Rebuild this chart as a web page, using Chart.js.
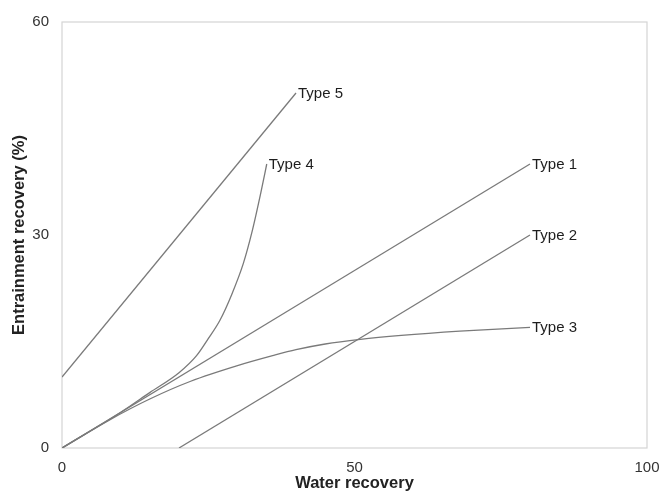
<!DOCTYPE html>
<html>
<head>
<meta charset="utf-8">
<script src="https://cdn.jsdelivr.net/npm/chart.js@4/dist/chart.umd.min.js"></script>
<style>
  html, body { margin: 0; padding: 0; background: #ffffff; }
  #wrap { width: 661px; height: 493px; position: relative; }
</style>
</head>
<body>
<div id="wrap"><canvas id="c" width="661" height="493"></canvas></div>
<script>
// Curve names, drawn at the end of each line
const seriesNames = ['Type 1', 'Type 2', 'Type 3', 'Type 4', 'Type 5'];

// Water recovery (x) and entrainment recovery (y) for each curve
const type1X = [0, 80];
const type1Y = [0, 40];

const type2X = [20, 80];
const type2Y = [0, 30];

const type3X = [0, 8, 15, 22, 30, 36, 40, 45, 51, 58, 68, 80];
const type3Y = [0, 3.9, 6.9, 9.4, 11.6, 13.0, 13.85, 14.65, 15.3, 15.85, 16.45, 17];

const type4X = [0, 10, 15, 20, 23, 25, 27, 29, 31, 32.5, 34, 35];
const type4Y = [0, 5, 7.8, 10.6, 13, 15.4, 18, 21.6, 26, 30.5, 36, 40];

const type5X = [0, 40];
const type5Y = [10, 50];

// Axis ticks
const xTicks = [0, 50, 100];
const yTicks = [0, 30, 60];

function pts(xs, ys) { return xs.map((x, i) => ({ x: x, y: ys[i] })); }

const seriesXs = [type1X, type2X, type3X, type4X, type5X];
const seriesYs = [type1Y, type2Y, type3Y, type4Y, type5Y];

const LINE = '#7a7a7a';
const FONT = '"Liberation Sans", Arial, sans-serif';

const datasets = seriesNames.map((name, i) => ({
  label: name,
  data: pts(seriesXs[i], seriesYs[i]),
  showLine: true,
  borderColor: LINE,
  borderWidth: 1.3,
  pointRadius: 0,
  pointHoverRadius: 0,
  fill: false,
  cubicInterpolationMode: 'monotone'
}));

// Light frame around the plotting area
const frame = {
  id: 'frame',
  beforeDatasetsDraw(chart) {
    const { ctx, chartArea: a } = chart;
    ctx.save();
    ctx.strokeStyle = '#d4d4d4';
    ctx.lineWidth = 1.2;
    ctx.strokeRect(a.left, a.top, a.right - a.left, a.bottom - a.top);
    ctx.restore();
  }
};

// Name of each curve written just past its last point
const endLabels = {
  id: 'endLabels',
  afterDatasetsDraw(chart) {
    const { ctx } = chart;
    ctx.save();
    ctx.font = '15px ' + FONT;
    ctx.fillStyle = '#1e1e1e';
    ctx.textAlign = 'left';
    ctx.textBaseline = 'middle';
    chart.data.datasets.forEach((ds, i) => {
      const meta = chart.getDatasetMeta(i);
      const last = meta.data[meta.data.length - 1];
      ctx.fillText(ds.label, last.x + 2, last.y + 1);
    });
    ctx.restore();
  }
};

new Chart(document.getElementById('c'), {
  type: 'scatter',
  data: { datasets: datasets },
  options: {
    responsive: false,
    animation: false,
    devicePixelRatio: 1,
    layout: { padding: { top: 22, right: 14, left: 0, bottom: 0 } },
    plugins: {
      legend: { display: false },
      tooltip: { enabled: false }
    },
    scales: {
      x: {
        type: 'linear',
        min: 0,
        max: 100,
        afterBuildTicks(scale) { scale.ticks = xTicks.map(v => ({ value: v })); },
        afterFit(scale) {
          scale.height = 45;
          // let the "100" label run past the frame instead of shrinking the plot
          scale.paddingLeft = 0;
          scale.paddingRight = 0;
        },
        grid: { display: false, drawTicks: false },
        border: { display: false },
        ticks: {
          padding: 11,
          color: '#333333',
          font: { family: FONT, size: 15 }
        },
        title: {
          display: true,
          text: 'Water recovery',
          color: '#222222',
          padding: { top: 0, bottom: 0 },
          font: { family: FONT, size: 16.5, weight: 'bold' }
        }
      },
      y: {
        type: 'linear',
        min: 0,
        max: 60,
        afterBuildTicks(scale) { scale.ticks = yTicks.map(v => ({ value: v })); },
        afterFit(scale) { scale.width = 62; },
        grid: { display: false, drawTicks: false },
        border: { display: false },
        ticks: {
          padding: 13,
          color: '#333333',
          font: { family: FONT, size: 15 }
        },
        title: {
          display: true,
          text: 'Entrainment recovery (%)',
          color: '#222222',
          padding: { top: 10, bottom: 0 },
          font: { family: FONT, size: 16.5, weight: 'bold' }
        }
      }
    }
  },
  plugins: [frame, endLabels]
});
</script>
</body>
</html>
